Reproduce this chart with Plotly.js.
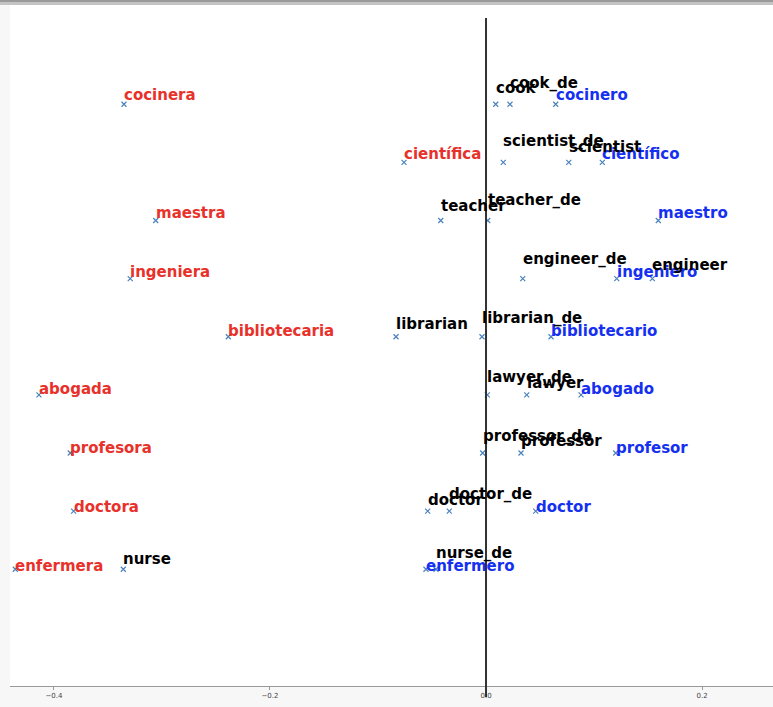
<!DOCTYPE html>
<html>
<head>
<meta charset="utf-8">
<script src="https://cdn.plot.ly/plotly-3.0.1.min.js"></script>
<style>html,body{margin:0;padding:0;background:#f7f7f7;}</style>
</head>
<body>
<div id="chart" style="width:773px;height:707px;"></div>
<script>
// Rows (occupations), top to bottom
const rowY = [9, 8, 7, 6, 5, 4, 3, 2, 1];

// English words
const enLabels = ['cook', 'scientist', 'teacher', 'engineer', 'librarian', 'lawyer', 'professor', 'doctor', 'nurse'];
const enX = [0.0090, 0.0766, -0.0419, 0.1540, -0.0833, 0.0377, 0.0324, -0.0540, -0.3358];

// English "_de" words
const deLabels = ['cook_de', 'scientist_de', 'teacher_de', 'engineer_de', 'librarian_de', 'lawyer_de', 'professor_de', 'doctor_de', 'nurse_de'];
const deX = [0.0222, 0.0160, 0.0016, 0.0340, -0.0037, 0.0012, -0.0031, -0.0340, -0.0463];

// Spanish masculine
const esMLabels = ['cocinero', 'científico', 'maestro', 'ingeniero', 'bibliotecario', 'abogado', 'profesor', 'doctor', 'enfermero'];
const esMX = [0.0645, 0.1077, 0.1595, 0.1210, 0.0602, 0.0880, 0.1201, 0.0460, -0.0556];

// Spanish feminine
const esFLabels = ['cocinera', 'científica', 'maestra', 'ingeniera', 'bibliotecaria', 'abogada', 'profesora', 'doctora', 'enfermera'];
const esFX = [-0.3352, -0.0759, -0.3058, -0.3294, -0.2386, -0.4139, -0.3849, -0.3818, -0.4358];

const tickVals = [-0.4, -0.2, 0.0, 0.2];
const tickText = ['\u22120.4', '\u22120.2', '0.0', '0.2'];

const groups = [
  {labels: esFLabels, xs: esFX, color: '#e8312a', base: -2.0},
  {labels: esMLabels, xs: esMX, color: '#1530f0', base: -2.0},
  {labels: deLabels, xs: deX, color: '#000000', base: 10.7},
  {labels: enLabels, xs: enX, color: '#000000', base: 4.8}
];

const markerStyle = {symbol: 'x-thin', size: 5, line: {width: 1.2, color: '#4a82bd'}, color: '#4a82bd'};

const traces = groups.map(g => ({
  type: 'scatter', mode: 'markers', x: g.xs, y: rowY,
  marker: markerStyle, hoverinfo: 'skip', showlegend: false, cliponaxis: false
}));

const annotations = [];
groups.forEach(g => {
  g.labels.forEach((lab, i) => {
    annotations.push({
      x: g.xs[i], y: rowY[i], xref: 'x', yref: 'y', text: lab, showarrow: false,
      xanchor: 'left', yanchor: 'bottom', xshift: -2, yshift: g.base - 0.7 * i,
      font: {family: 'DejaVu Sans', size: 15, weight: 'bold', color: g.color}
    });
  });
});

const layout = {
  width: 773, height: 707,
  paper_bgcolor: '#f7f7f7', plot_bgcolor: '#ffffff',
  margin: {l: 10, r: 0, t: 5, b: 21, pad: 0},
  showlegend: false,
  xaxis: {
    range: [-0.4407, 0.2657], tickvals: tickVals, ticktext: tickText,
    showgrid: false, zeroline: false, showline: true, linecolor: '#9a9a9a', linewidth: 1,
    ticks: 'outside', ticklen: 3, tickcolor: '#9a9a9a', tickwidth: 1,
    tickfont: {family: 'DejaVu Sans', size: 7, color: '#444444'}, fixedrange: true
  },
  yaxis: {
    range: [-1.008, 10.708], visible: false, showgrid: false, zeroline: false, fixedrange: true
  },
  shapes: [
    {type: 'line', xref: 'x', yref: 'paper', x0: 0, x1: 0, y0: -0.016, y1: 0.981,
     line: {color: '#333333', width: 2}, layer: 'above'},
    {type: 'rect', xref: 'paper', yref: 'paper', x0: -0.02, x1: 1.01, y0: 1.0, y1: 1.0075,
     fillcolor: '#c4c4c4', line: {width: 0}, layer: 'above'},
    {type: 'rect', xref: 'paper', yref: 'paper', x0: -0.02, x1: 1.01, y0: 1.0044, y1: 1.0075,
     fillcolor: '#9a9a9a', line: {width: 0}, layer: 'above'}
  ],
  annotations: annotations
};

Plotly.newPlot('chart', traces, layout, {displayModeBar: false, staticPlot: true});
</script>
</body>
</html>
